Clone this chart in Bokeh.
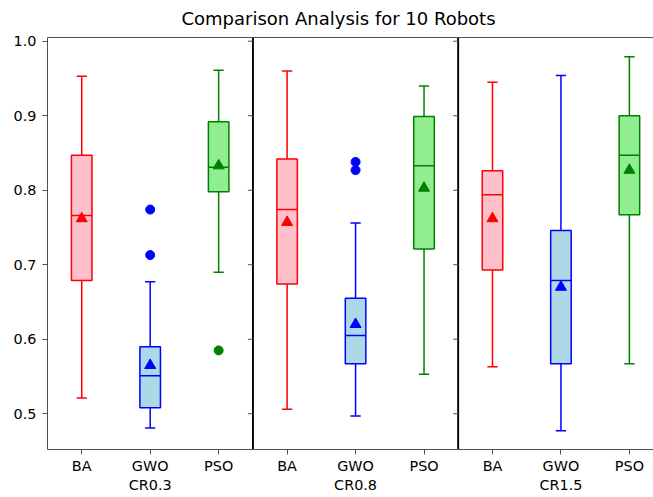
import numpy as np
from bokeh.plotting import figure
from bokeh.models import (Range1d, FixedTicker, LinearAxis, PrintfTickFormatter,
                          ColumnDataSource)
from bokeh.embed import file_html
from bokeh.resources import INLINE

# ---- data -------------------------------------------------------------
groups = ["CR0.3", "CR0.8", "CR1.5"]
algorithms = ["BA", "GWO", "PSO"]

# box statistics, ordered group by group (BA, GWO, PSO within each group)
whisker_low = [0.521, 0.481, 0.690, 0.506, 0.497, 0.553, 0.563, 0.477, 0.567]
q1 = [0.679, 0.508, 0.798, 0.674, 0.567, 0.721, 0.693, 0.567, 0.767]
median = [0.766, 0.551, 0.831, 0.774, 0.605, 0.833, 0.794, 0.679, 0.847]
q3 = [0.847, 0.590, 0.892, 0.842, 0.655, 0.899, 0.826, 0.746, 0.900]
whisker_high = [0.953, 0.677, 0.961, 0.960, 0.756, 0.940, 0.945, 0.954, 0.979]
mean = [0.762, 0.565, 0.833, 0.757, 0.620, 0.803, 0.762, 0.670, 0.827]

outlier_group = ["CR0.3", "CR0.3", "CR0.3", "CR0.8", "CR0.8"]
outlier_alg = ["GWO", "GWO", "PSO", "GWO", "GWO"]
outlier_val = [0.774, 0.713, 0.585, 0.838, 0.827]

y_ticks = [0.5, 0.6, 0.7, 0.8, 0.9, 1.0]
title_text = "Comparison Analysis for 10 Robots"

edge_colors = {"BA": "red", "GWO": "blue", "PSO": "green"}
fill_colors = {"BA": "pink", "GWO": "lightblue", "PSO": "lightgreen"}

# ---- layout helpers ---------------------------------------------------
n_alg = len(algorithms)
BOX_W = 0.3
CAP_W = 0.15
FONT = "DejaVu Sans"
W, H = 653, 497
LEFT, TOP, BOTTOM = 47, 37, 48
X_START, X_END = 0.5, 9.352
TICK_PX = 5


def pos(g, a):
    return groups.index(g) * n_alg + algorithms.index(a) + 1


xs, edges, fills = [], [], []
for g in groups:
    for a in algorithms:
        xs.append(pos(g, a))
        edges.append(edge_colors[a])
        fills.append(fill_colors[a])
xs = np.array(xs, dtype=float)

src = ColumnDataSource(dict(
    x=xs, lo=whisker_low, q1=q1, med=median, q3=q3, hi=whisker_high,
    mean=mean, edge=edges, fill=fills,
    xl=xs - BOX_W / 2, xr=xs + BOX_W / 2,
    cl=xs - CAP_W / 2, cr=xs + CAP_W / 2,
))

out_src = ColumnDataSource(dict(
    x=[pos(g, a) for g, a in zip(outlier_group, outlier_alg)],
    y=outlier_val,
    edge=[edge_colors[a] for a in outlier_alg],
))

p = figure(width=W, height=H,
           x_range=Range1d(X_START, X_END), y_range=Range1d(0.452, 1.005),
           output_backend="svg", toolbar_location=None,
           min_border_left=LEFT, min_border_right=0,
           min_border_top=TOP, min_border_bottom=BOTTOM)

p.title.text = title_text
p.title.text_font = FONT
p.title.text_font_size = "18px"
p.title.text_font_style = "normal"
p.title.text_color = "black"
p.title.text_line_height = 1.2
p.title.align = "left"
p.title.offset = 134
p.title.vertical_align = "top"
p.title.standoff = 13

p.outline_line_color = None
p.xgrid.visible = False
p.ygrid.visible = False

SPINE = "#505050"

# x axis: algorithm names
xax = p.xaxis[0]
xax.ticker = FixedTicker(ticks=list(xs))
xax.major_label_overrides = {float(x): a for x, a in
                             zip(xs, algorithms * len(groups))}
xax.minor_tick_line_color = None
xax.major_tick_out = TICK_PX
xax.major_tick_in = 0
xax.major_label_standoff = 3
xax.axis_line_color = SPINE
xax.major_tick_line_color = SPINE
xax.major_label_text_font = FONT
xax.major_label_text_font_size = "14.4px"
xax.major_label_text_color = "black"

# second row: group names
group_centers = [i * n_alg + (n_alg + 1) / 2 for i in range(len(groups))]
gax = LinearAxis(ticker=FixedTicker(ticks=group_centers),
                 major_label_overrides={float(c): g for c, g in
                                        zip(group_centers, groups)})
gax.axis_line_color = None
gax.major_tick_line_color = None
gax.minor_tick_line_color = None
gax.major_tick_out = 0
gax.major_tick_in = 0
gax.major_label_standoff = 0
gax.major_label_text_font = FONT
gax.major_label_text_font_size = "14.4px"
gax.major_label_text_color = "black"
p.add_layout(gax, "below")

# y axis
yax = p.yaxis[0]
yax.ticker = FixedTicker(ticks=y_ticks)
yax.formatter = PrintfTickFormatter(format="%.1f")
yax.minor_tick_line_color = None
yax.major_tick_out = TICK_PX
yax.major_tick_in = 0
yax.major_label_standoff = 6
yax.axis_line_color = SPINE
yax.major_tick_line_color = SPINE
yax.major_label_text_font = FONT
yax.major_label_text_font_size = "14.4px"
yax.major_label_text_color = "black"

# top spine
tax = LinearAxis(ticker=FixedTicker(ticks=[]))
tax.axis_line_color = SPINE
tax.major_tick_line_color = None
tax.minor_tick_line_color = None
tax.major_label_text_font_size = "0px"
tax.major_tick_out = 0
tax.major_label_standoff = 0
p.add_layout(tax, "above")

# panel dividers with their own y ticks pointing left
px_per_unit = (W - LEFT) / (X_END - X_START)
tick_len = TICK_PX / px_per_unit
dividers = [i * n_alg + 0.5 for i in range(1, len(groups))]
for d in dividers:
    p.segment(x0=[d, d], x1=[d, d], y0=[p.y_range.start, p.y_range.start],
              y1=[p.y_range.end, p.y_range.end], line_color="black", line_width=1.6)
    p.segment(x0=[d] * len(y_ticks), x1=[d - tick_len] * len(y_ticks),
              y0=y_ticks, y1=y_ticks, line_color=SPINE, line_width=1)

LW = 1.5
# whiskers
p.segment(x0="x", x1="x", y0="q3", y1="hi", line_color="edge", line_width=LW, source=src)
p.segment(x0="x", x1="x", y0="q1", y1="lo", line_color="edge", line_width=LW, source=src)
# caps
p.segment(x0="cl", x1="cr", y0="hi", y1="hi", line_color="edge", line_width=LW, source=src)
p.segment(x0="cl", x1="cr", y0="lo", y1="lo", line_color="edge", line_width=LW, source=src)
# boxes
p.vbar(x="x", width=BOX_W, bottom="q1", top="q3", fill_color="fill",
       line_color="edge", line_width=LW, source=src)
# medians
p.segment(x0="xl", x1="xr", y0="med", y1="med", line_color="edge", line_width=LW, source=src)
# means
p.scatter(x="x", y="mean", marker="triangle", size=11, fill_color="edge",
          line_color="edge", source=src)
# outliers
p.scatter(x="x", y="y", marker="circle", size=9, fill_color="edge",
          line_color="edge", source=out_src)

open("out.html", "w").write(file_html(p, INLINE))
